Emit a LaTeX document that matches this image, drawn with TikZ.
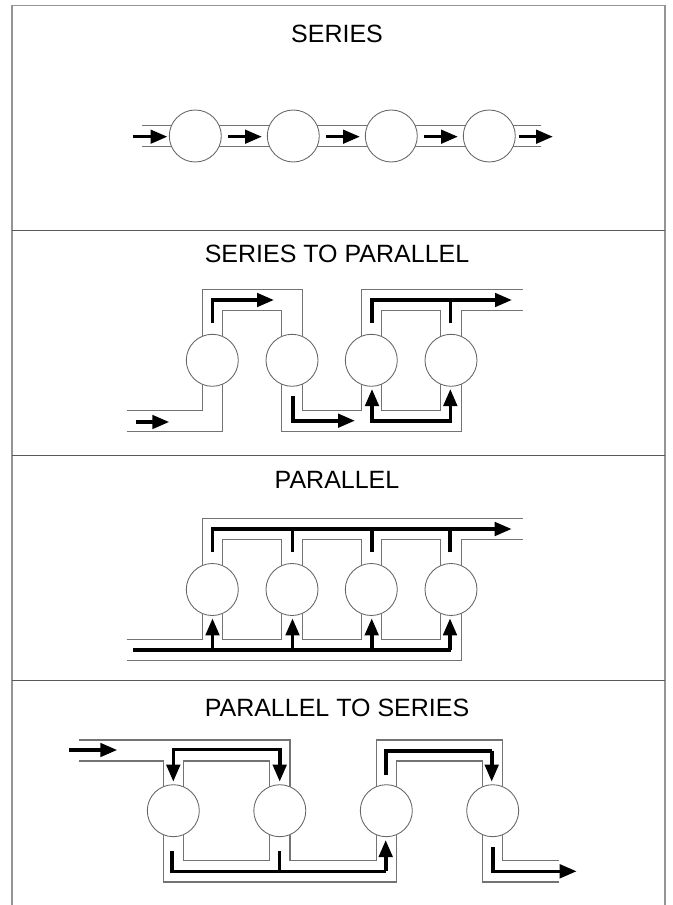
\documentclass[tikz,border=0pt]{standalone}
\usepackage{fontspec}
\setmainfont{Liberation Sans}
\usetikzlibrary{arrows.meta}
\tikzset{
  x=0.75pt,y=-0.75pt,
  frameline/.style={draw=black!42,line width=1.3pt},
  divider/.style={draw=black!65,line width=0.6pt},
  pipe/.style={draw=black!55,line width=0.9pt,line join=miter},
  pump/.style={circle,draw=black!60,line width=0.65pt,minimum size=39pt,inner sep=0pt,outer sep=0pt},
  flow/.style={draw=black,line width=2.7pt,line join=miter},
  flowtip/.style={flow,-{Triangle[length=12.75pt,width=10pt]}},
  heading/.style={anchor=base,font=\fontsize{18.75pt}{20pt}\selectfont,inner sep=0pt},
}
\begin{document}
\begin{tikzpicture}
\useasboundingbox (0,0) rectangle (673,905);
% frame
\coordinate (fa) at (12,905); \coordinate (fb) at (12,5.5); \coordinate (fc) at (665,5.5); \coordinate (fd) at (665,905);
\draw[frameline] (fa) -- (fb) -- (fc) -- (fd);
\foreach \yy/\nm in {230.5/d1,455.5/d2,680.3/d3}{
  \coordinate (\nm l) at (12,\yy); \coordinate (\nm r) at (665,\yy);
  \draw[divider] (\nm l) -- (\nm r);
}
% headings
\node[heading] (t1) at (337,42.3) {SERIES};
\node[heading] (t2) at (337,262.3) {SERIES TO PARALLEL};
\node[heading] (t3) at (337,488) {PARALLEL};
\node[heading] (t4) at (337,716) {PARALLEL TO SERIES};

% ---------- SERIES
\node[pump] (a1) at (195.3,136) {};
\node[pump] (a2) at (293.3,136) {};
\node[pump] (a3) at (391.3,136) {};
\node[pump] (a4) at (489.3,136) {};
\coordinate (aiu) at (142,125.8); \coordinate (ail) at (142,146.2);
\coordinate (aou) at (541,125.8); \coordinate (aol) at (541,146.2);
\draw[pipe] (aiu) -- (aiu -| a1.157);
\draw[pipe] (ail) -- (ail -| a1.-157);
\draw[pipe] (a1.23) -- (a2.157);
\draw[pipe] (a1.-23) -- (a2.-157);
\draw[pipe] (a2.23) -- (a3.157);
\draw[pipe] (a2.-23) -- (a3.-157);
\draw[pipe] (a3.23) -- (a4.157);
\draw[pipe] (a3.-23) -- (a4.-157);
\draw[pipe] (aou -| a4.23) -- (aou);
\draw[pipe] (aol -| a4.-23) -- (aol);
\foreach \xa/\xb/\nm in {133/167.5/p,228/262/q,326/360/r,424/458/s,518.5/553/t}{
  \coordinate (\nm a) at (\xa,136.7); \coordinate (\nm b) at (\xb,136.7);
  \draw[flowtip] (\nm a) -- (\nm b);
}

% ---------- SERIES TO PARALLEL
\node[pump] (b1) at (212.3,360.3) {};
\node[pump] (b2) at (292,360.3) {};
\node[pump] (b3) at (371.3,360.3) {};
\node[pump] (b4) at (451,360.3) {};
\coordinate (bto) at (0,289.3); \coordinate (bti) at (0,310.3);
\coordinate (bbi) at (0,410.3); \coordinate (bbo) at (0,431.3);
\coordinate (bl) at (126.7,0); \coordinate (br) at (523,0);
\draw[pipe] (b1.113) -- (b1.113 |- bto) -- (b2.67 |- bto) -- (b2.67);
\draw[pipe] (b1.67) -- (b1.67 |- bti) -- (b2.113 |- bti) -- (b2.113);
\draw[pipe] (b1.-113) -- (b1.-113 |- bbi) -- (bl |- bbi);
\draw[pipe] (b1.-67) -- (b1.-67 |- bbo) -- (bl |- bbo);
\draw[pipe] (b2.-113) -- (b2.-113 |- bbo) -- (b4.-67 |- bbo) -- (b4.-67);
\draw[pipe] (b2.-67) -- (b2.-67 |- bbi) -- (b3.-113 |- bbi) -- (b3.-113);
\draw[pipe] (b3.-67) -- (b3.-67 |- bbi) -- (b4.-113 |- bbi) -- (b4.-113);
\draw[pipe] (b3.113) -- (b3.113 |- bto) -- (br |- bto);
\draw[pipe] (b3.67) -- (b3.67 |- bti) -- (b4.113 |- bti) -- (b4.113);
\draw[pipe] (b4.67) -- (b4.67 |- bti) -- (br |- bti);
% flows
\coordinate (bf1) at (135.7,422); \coordinate (bf2) at (169.3,422);
\draw[flowtip] (bf1) -- (bf2);
\coordinate (bf3) at (212.3,322.7); \coordinate (bf4) at (274,300);
\draw[flowtip] (bf3) |- (bf4);
\coordinate (bf5) at (293,396); \coordinate (bf6) at (355,420.7);
\draw[flowtip] (bf5) |- (bf6);
\coordinate (bf7) at (372,322.7); \coordinate (bf8) at (512,300);
\draw[flowtip] (bf7) |- (bf8);
\coordinate (bf9) at (450.3,322.7);
\draw[flow] (bf9) -- (bf9 |- bf8);
\coordinate (bf10) at (372,389); \coordinate (bf11) at (450.3,389); \coordinate (bf12) at (0,420.7);
\draw[flowtip] (bf10 |- bf12) -- (bf10);
\draw[flowtip] (bf11 |- bf12) -- (bf11);
\draw[flow,line cap=rect] (bf10 |- bf12) -- (bf11 |- bf12);

% ---------- PARALLEL
\node[pump] (c1) at (212.3,589.5) {};
\node[pump] (c2) at (292,589.5) {};
\node[pump] (c3) at (371.3,589.5) {};
\node[pump] (c4) at (451,589.5) {};
\coordinate (cto) at (0,518.7); \coordinate (cti) at (0,539.3);
\coordinate (cbi) at (0,639.7); \coordinate (cbo) at (0,660.3);
\coordinate (cl) at (126.7,0); \coordinate (cr) at (523,0);
\draw[pipe] (c1.113) -- (c1.113 |- cto) -- (cr |- cto);
\draw[pipe] (c1.67) -- (c1.67 |- cti) -- (c2.113 |- cti) -- (c2.113);
\draw[pipe] (c2.67) -- (c2.67 |- cti) -- (c3.113 |- cti) -- (c3.113);
\draw[pipe] (c3.67) -- (c3.67 |- cti) -- (c4.113 |- cti) -- (c4.113);
\draw[pipe] (c4.67) -- (c4.67 |- cti) -- (cr |- cti);
\draw[pipe] (cl |- cbi) -- (c1.-113 |- cbi) -- (c1.-113);
\draw[pipe] (c1.-67) -- (c1.-67 |- cbi) -- (c2.-113 |- cbi) -- (c2.-113);
\draw[pipe] (c2.-67) -- (c2.-67 |- cbi) -- (c3.-113 |- cbi) -- (c3.-113);
\draw[pipe] (c3.-67) -- (c3.-67 |- cbi) -- (c4.-113 |- cbi) -- (c4.-113);
\draw[pipe] (cl |- cbo) -- (c4.-67 |- cbo) -- (c4.-67);
% flows
\coordinate (cf1) at (212.5,552.3); \coordinate (cf2) at (511.7,529);
\draw[flowtip] (cf1) |- (cf2);
\foreach \xx/\nm in {292.3/u,371.7/v,450/w}{
  \coordinate (\nm t) at (\xx,552.3);
  \draw[flow] (\nm t) -- (\nm t |- cf2);
}
\coordinate (cf3) at (133.3,649.7); \coordinate (cf3e) at (451,649.7);
\draw[flow] (cf3) -- (cf3e);
\foreach \xx/\nm in {212.5/e,292.5/f,371.7/g,450/h}{
  \coordinate (\nm t) at (\xx,618.3);
  \draw[flowtip] (\nm t |- cf3) -- (\nm t);
}

% ---------- PARALLEL TO SERIES
\node[pump] (d1) at (173.3,810.7) {};
\node[pump] (d2) at (279.8,810.7) {};
\node[pump] (d3) at (386.3,810.7) {};
\node[pump] (d4) at (492.7,810.7) {};
\coordinate (dto) at (0,740); \coordinate (dti) at (0,761);
\coordinate (dbi) at (0,860.7); \coordinate (dbo) at (0,882);
\coordinate (dl) at (78.5,0); \coordinate (dr) at (559,0);
\draw[pipe] (dl |- dto) -- (d2.67 |- dto) -- (d2.67);
\draw[pipe] (dl |- dti) -- (d1.113 |- dti) -- (d1.113);
\draw[pipe] (d1.67) -- (d1.67 |- dti) -- (d2.113 |- dti) -- (d2.113);
\draw[pipe] (d1.-113) -- (d1.-113 |- dbo) -- (d3.-67 |- dbo) -- (d3.-67);
\draw[pipe] (d1.-67) -- (d1.-67 |- dbi) -- (d2.-113 |- dbi) -- (d2.-113);
\draw[pipe] (d2.-67) -- (d2.-67 |- dbi) -- (d3.-113 |- dbi) -- (d3.-113);
\draw[pipe] (d3.113) -- (d3.113 |- dto) -- (d4.67 |- dto) -- (d4.67);
\draw[pipe] (d3.67) -- (d3.67 |- dti) -- (d4.113 |- dti) -- (d4.113);
\draw[pipe] (d4.-113) -- (d4.-113 |- dbo) -- (dr |- dbo);
\draw[pipe] (d4.-67) -- (d4.-67 |- dbi) -- (dr |- dbi);
% flows
\coordinate (df1) at (69.3,750); \coordinate (df2) at (117.3,750);
\draw[flowtip] (df1) -- (df2);
\coordinate (df3) at (173.3,781.7); \coordinate (df4) at (279.7,781.7); \coordinate (df5) at (0,749.3);
\draw[flowtip] (df3 |- df5) -- (df3);
\draw[flowtip] (df4 |- df5) -- (df4);
\draw[flow,line cap=rect] (df3 |- df5) -- (df4 |- df5);
\coordinate (df6) at (171.7,850.7); \coordinate (df7) at (385.7,840); \coordinate (df8) at (0,871.3);
\draw[flow] (df6) |- (df7 |- df8);
\draw[flowtip] (df7 |- df8) -- (df7);
\coordinate (df9) at (279.3,850.7);
\draw[flow] (df9) -- (df9 |- df8);
\coordinate (df10) at (385.7,775.3); \coordinate (df11) at (491.7,781.7); \coordinate (df12) at (0,750.7);
\draw[flow] (df10) -- (df10 |- df12) -- (df11 |- df12);
\draw[flowtip] (df11 |- df12) -- (df11);
\coordinate (df13) at (493,847.3); \coordinate (df14) at (576.7,871.3);
\draw[flowtip] (df13) |- (df14);
\end{tikzpicture}
\end{document}
